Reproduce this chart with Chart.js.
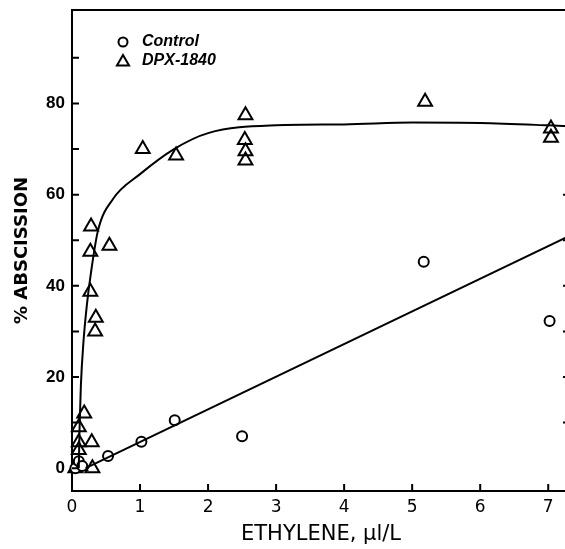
<!DOCTYPE html>
<html>
<head>
<meta charset="utf-8">
<script src="https://cdn.jsdelivr.net/npm/chart.js"></script>
<style>
html, body { margin: 0; padding: 0; background: #fff; overflow: hidden; }
#wrap { width: 570px; height: 549px; }
</style>
</head>
<body>
<div id="wrap"><canvas id="abscissionChart"></canvas></div>
<script>
// tick values
var xTicks = [0, 1, 2, 3, 4, 5, 6, 7];
var yTickLabels = [0, 20, 40, 60, 80];
var yMinorTicks = [0, 10, 20, 30, 40, 50, 60, 70, 80, 90];
var rightTicks = [10, 20, 30, 40, 50, 60];

// Control (circles)
var controlX = [0.05, 0.1, 0.15, 0.53, 1.02, 1.51, 2.5, 5.17, 7.02];
var controlY = [0, 1.5, 0.5, 2.7, 5.8, 10.5, 7, 45.3, 32.3];

// DPX-1840 (triangles)
var dpxX = [0.05, 0.1, 0.1, 0.1, 0.12, 0.18, 0.29, 0.3, 0.27, 0.27, 0.28, 0.35, 0.34, 0.55, 1.04, 1.53, 2.55, 2.54, 2.55, 2.55, 5.19, 7.04, 7.04];
var dpxY = [0, 4, 5.7, 9, 0.5, 12, 5.7, 0, 38.7, 47.5, 53, 33, 30, 48.8, 70, 68.6, 77.4, 72, 69.5, 67.5, 80.4, 74.5, 72.5];

// fitted curve through DPX-1840
var fitX = [0.1, 0.11, 0.13, 0.17, 0.22, 0.28, 0.38, 0.6, 1, 1.5, 2, 3, 4, 5, 6, 7, 7.32];
var fitY = [0, 8, 18, 28, 36, 43, 52, 59, 64.5, 70, 73.5, 75.2, 75.4, 75.8, 75.7, 75.2, 75];

// straight line through Control
var lineX = [0.2, 7.32];
var lineY = [0, 51];

function pts(xs, ys) {
	return xs.map(function(v, i){ return {x: v, y: ys[i]}; });
}

var tickMarks = {
	id: 'tickMarks',
	afterDraw: function(chart) {
		var ctx = chart.ctx, a = chart.chartArea, x = chart.scales.x, y = chart.scales.y;
		ctx.save();
		ctx.strokeStyle = '#000';
		ctx.lineWidth = 2;
		ctx.beginPath();
		yMinorTicks.forEach(function(v){
			var py = y.getPixelForValue(v);
			ctx.moveTo(a.left, py); ctx.lineTo(a.left + 7, py);
		});
		xTicks.slice(1).forEach(function(v){
			var px = x.getPixelForValue(v);
			ctx.moveTo(px, a.bottom); ctx.lineTo(px, a.bottom - 7);
		});
		rightTicks.forEach(function(v){
			var py = y.getPixelForValue(v);
			ctx.moveTo(a.right - 7, py); ctx.lineTo(a.right, py);
		});
		ctx.moveTo(a.left, a.top); ctx.lineTo(a.right, a.top);
		ctx.stroke();
		ctx.restore();
	}
};

// legend drawn inside the plot, top left
var insideLegend = {
	id: 'insideLegend',
	afterDraw: function(chart) {
		var ctx = chart.ctx;
		var items = [chart.data.datasets[2], chart.data.datasets[3]];
		ctx.save();
		ctx.textBaseline = 'middle';
		items.forEach(function(ds, i){
			var cy = 42 + i * 19;
			ctx.strokeStyle = '#000';
			ctx.fillStyle = '#fff';
			ctx.lineWidth = ds.pointBorderWidth;
			Chart.helpers.drawPoint(ctx, {pointStyle: ds.pointStyle, radius: i ? 7 : 4.5, borderWidth: ds.pointBorderWidth}, 123, cy + (i ? 1 : 0));
			ctx.font = 'italic bold 16px "Liberation Sans", sans-serif';
			ctx.fillStyle = '#000';
			ctx.fillText(ds.label, 142, cy);
		});
		ctx.restore();
	}
};

var ctx = document.getElementById('abscissionChart');
var abscissionChart = new Chart(ctx, {
	type: 'scatter',
	data: {
		datasets: [
			{
				label: 'fit DPX-1840',
				data: pts(fitX, fitY),
				showLine: true,
				cubicInterpolationMode: 'monotone',
				borderColor: '#000',
				borderWidth: 2,
				pointRadius: 0,
				clip: false
			},
			{
				label: 'fit Control',
				data: pts(lineX, lineY),
				showLine: true,
				borderColor: '#000',
				borderWidth: 2,
				pointRadius: 0,
				clip: false
			},
			{
				label: 'Control',
				data: pts(controlX, controlY),
				pointStyle: 'circle',
				pointRadius: 5,
				pointBorderWidth: 2,
				borderColor: '#000',
				backgroundColor: '#fff',
				clip: false
			},
			{
				label: 'DPX-1840',
				data: pts(dpxX, dpxY),
				pointStyle: 'triangle',
				pointRadius: 8,
				pointBorderWidth: 2,
				borderColor: '#000',
				backgroundColor: 'rgba(0,0,0,0)',
				clip: false
			}
		]
	},
	options: {
		responsive: true,
		maintainAspectRatio: false,
		animation: false,
		layout: { autoPadding: false, padding: { top: 10, right: 0, left: 0, bottom: 0 } },
		plugins: { legend: { display: false }, tooltip: { enabled: false } },
		scales: {
			x: {
				type: 'linear',
				min: 0,
				max: 7.32,
				afterBuildTicks: function(scale){ scale.ticks = xTicks.map(function(v){ return {value: v}; }); },
				afterFit: function(scale){ scale.height = 58; },
				grid: { display: false, drawTicks: false },
				border: { display: true, color: '#000', width: 2 },
				ticks: {
					color: '#000',
					padding: 6,
					maxRotation: 0,
					font: { family: '"DejaVu Sans", sans-serif', size: 17 }
				},
				title: {
					display: true,
					text: 'ETHYLENE, \u00b5l/L',
					color: '#000',
					padding: { top: 0, bottom: 2 },
					font: { family: '"DejaVu Sans", sans-serif', size: 21 }
				}
			},
			y: {
				type: 'linear',
				min: -5,
				max: 100.5,
				afterBuildTicks: function(scale){ scale.ticks = yTickLabels.map(function(v){ return {value: v}; }); },
				afterFit: function(scale){ scale.width = 72; scale.paddingTop = 0; scale.paddingBottom = 0; },
				grid: { display: false, drawTicks: false },
				border: { display: true, color: '#000', width: 2 },
				ticks: {
					color: '#000',
					padding: 7,
					font: { family: '"Liberation Sans", sans-serif', size: 17, weight: 'bold' }
				},
				title: {
					display: true,
					text: '% ABSCISSION',
					color: '#000',
					padding: { top: 12, bottom: 0 },
					font: { family: '"DejaVu Sans", sans-serif', size: 18, weight: 'bold' }
				}
			}
		}
	},
	plugins: [tickMarks, insideLegend]
});
</script>
</body>
</html>
